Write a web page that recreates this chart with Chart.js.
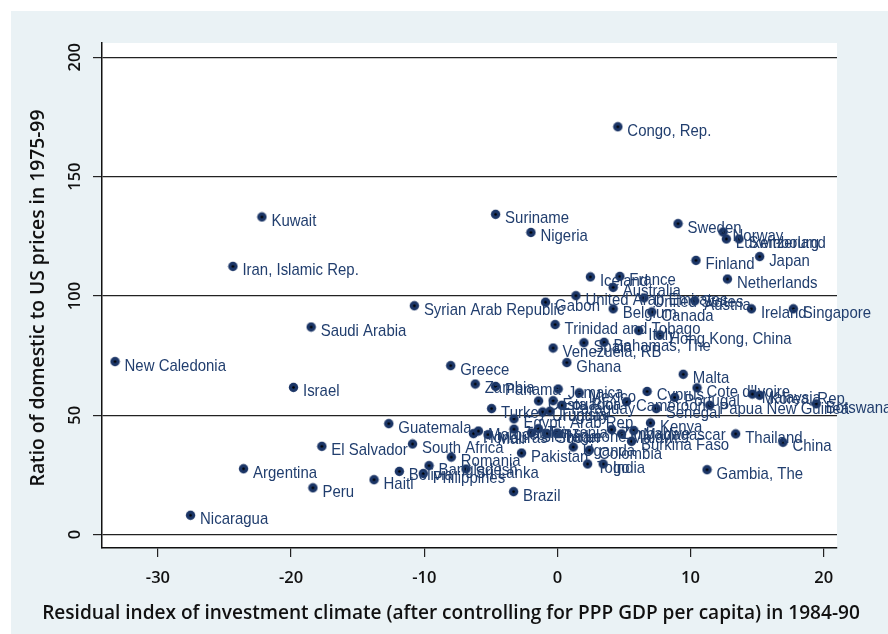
<!DOCTYPE html>
<html lang="en">
<head>
<meta charset="UTF-8">
<title>Investment climate and price levels</title>
<script src="https://cdn.jsdelivr.net/npm/chart.js"></script>
<style>
  html, body { margin: 0; padding: 0; background: #fff; }
  canvas { display: block; }
</style>
</head>
<body>
<canvas id="chart" width="888" height="634"></canvas>
<script>
// residual index of investment climate (x) vs ratio of domestic to US prices (y)
const countries = [
  'Congo, Rep.', 'Kuwait', 'Iran, Islamic Rep.', 'Saudi Arabia', 'New Caledonia', 'Israel',
  'El Salvador', 'Argentina', 'Peru', 'Nicaragua', 'Suriname', 'Nigeria',
  'Syrian Arab Republic', 'Gabon', 'United Arab Emirates', 'Iceland', 'France', 'Australia',
  'United States', 'Austria', 'Belgium', 'Canada', 'Trinidad and Tobago', 'Italy',
  'Hong Kong, China', 'Spain', 'Bahamas, The', 'Venezuela, RB', 'Ghana', 'Sweden',
  'Norway', 'Luxembourg', 'Switzerland', 'Finland', 'Japan', 'Netherlands',
  'Ireland', 'Singapore', 'Greece', 'Zambia', 'Panama', 'Jamaica',
  'Mexico', 'Costa Rica', 'Ecuador', 'Paraguay', 'Turkey', 'Uruguay',
  'Tunisia', 'Egypt, Arab Rep.', 'Cameroon', 'Cyprus', 'Portugal', 'Senegal',
  'Malta', "Cote d'Ivoire", 'Malaysia', 'Korea, Rep.', 'Papua New Guinea', 'Botswana',
  'Kenya', 'Thailand', 'China', 'Gambia, The', 'Burkina Faso', 'Uganda',
  'Colombia', 'Togo', 'India', 'Pakistan', 'Romania', 'Guatemala',
  'South Africa', 'Bangladesh', 'Bolivia', 'Haiti', 'Philippines', 'Sri Lanka',
  'Brazil', 'Honduras', 'Morocco', 'Mali', 'Jordan', 'Sierra Leone',
  'Tanzania', 'Sudan', 'Niger', 'Zimbabwe', 'Malawi', 'Madagascar'
];
const climate = [
  4.54, -22.19, -24.37, -18.49, -33.22, -19.82,
  -17.69, -23.57, -18.36, -27.55, -4.64, -1.99,
  -10.74, -0.89, 1.39, 2.48, 4.69, 4.19,
  6.51, 10.32, 4.19, 7.09, -0.17, 6.11,
  7.69, 1.99, 3.51, -0.32, 0.71, 9.06,
  12.44, 12.69, 13.64, 10.41, 15.19, 12.77,
  14.57, 17.72, -8.01, -6.17, -4.64, 0.06,
  1.64, -1.41, -0.32, 0.32, -4.94, -1.11,
  -0.56, -3.26, 5.19, 6.74, 8.81, 7.43,
  9.45, 10.49, 14.64, 15.19, 11.44, 19.44,
  6.99, 13.39, 16.94, 11.24, 5.57, 1.19,
  2.40, 2.27, 3.44, -2.69, -7.97, -12.66,
  -10.88, -9.64, -11.87, -13.77, -10.07, -6.86,
  -3.29, -6.30, -5.93, -5.21, -3.26, -1.95,
  -1.43, -0.81, -0.02, 4.07, 4.82, 5.74
];
const priceRatio = [
  170.9, 133.1, 112.4, 87.0, 72.5, 61.7,
  37.0, 27.6, 19.6, 8.1, 134.2, 126.6,
  95.9, 97.4, 100.1, 108.0, 108.2, 103.6,
  99.2, 98.0, 94.6, 93.3, 88.0, 85.5,
  83.7, 80.4, 80.6, 78.2, 72.1, 130.3,
  126.8, 123.9, 123.9, 114.9, 116.5, 107.1,
  94.6, 94.6, 70.8, 63.1, 62.1, 61.0,
  59.4, 56.0, 56.1, 54.2, 52.8, 51.4,
  51.7, 48.5, 55.7, 60.0, 57.5, 52.8,
  67.2, 61.5, 58.9, 58.4, 54.2, 54.8,
  46.8, 42.2, 38.7, 27.2, 39.1, 36.7,
  35.4, 29.6, 29.6, 34.2, 32.5, 46.5,
  38.0, 28.9, 26.5, 23.0, 25.6, 27.5,
  18.0, 42.3, 43.4, 41.9, 44.2, 42.6,
  44.4, 42.3, 42.6, 44.0, 42.2, 43.6
];
const xTicks = [-30, -20, -10, 0, 10, 20];
const yTicks = [0, 50, 100, 150, 200];
const xTitle = 'Residual index of investment climate (after controlling for PPP GDP per capita) in 1984-90';
const yTitle = 'Ratio of domestic to US prices in 1975-99';

const bgOuter = '#eaf2f5';
const navy = '#1b3566';
const labelColor = '#213e6e';
const axisFamily = '"Open Sans", "Noto Sans", sans-serif';

// size a bold title so it spans a given width
function fitSize(text, target) {
  const c = document.createElement('canvas').getContext('2d');
  c.font = '600 20px ' + axisFamily;
  return 20 * target / c.measureText(text).width;
}
const xTitleSize = fitSize(xTitle, 818);
const yTitleSize = fitSize(yTitle, 377);

// stata style marker: navy disc with dark centre
const marker = document.createElement('canvas');
marker.width = 11; marker.height = 11;
const mctx = marker.getContext('2d');
mctx.fillStyle = navy;
mctx.beginPath(); mctx.arc(5.5, 5.5, 4.7, 0, Math.PI * 2); mctx.fill();
mctx.fillStyle = '#000';
mctx.beginPath(); mctx.arc(5.5, 5.5, 1.3, 0, Math.PI * 2); mctx.fill();

const framePlugin = {
  id: 'frame',
  beforeDraw(chart) {
    const { ctx, chartArea: a } = chart;
    ctx.save();
    ctx.fillStyle = '#fff';
    ctx.fillRect(0, 0, chart.width, chart.height);
    ctx.fillStyle = bgOuter;
    ctx.fillRect(11, 11, chart.width - 11, chart.height - 11);
    ctx.fillStyle = '#fff';
    ctx.fillRect(a.left, a.top, a.right - a.left, a.bottom - a.top);
    ctx.restore();
  },
  afterDatasetsDraw(chart) {
    const { ctx } = chart;
    const meta = chart.getDatasetMeta(0);
    ctx.save();
    ctx.fillStyle = labelColor;
    ctx.font = '17px "Liberation Sans", Arial, sans-serif';
    ctx.textAlign = 'left';
    ctx.textBaseline = 'alphabetic';
    meta.data.forEach((pt, i) => {
      ctx.save();
      ctx.translate(pt.x + 9.5, pt.y + 9);
      ctx.scale(0.88, 1);
      ctx.fillText(countries[i], 0, 0);
      ctx.restore();
    });
    ctx.restore();
  },
  afterDraw(chart) {
    const { ctx } = chart;
    const ys = chart.scales.y;
    ctx.save();
    ctx.fillStyle = '#111';
    ctx.textAlign = 'center';
    ctx.textBaseline = 'middle';
    // rotated y tick labels
    ctx.font = '600 16.5px ' + axisFamily;
    yTicks.forEach(v => {
      ctx.save();
      ctx.translate(75, ys.getPixelForValue(v));
      ctx.rotate(-Math.PI / 2);
      ctx.fillText(String(v), 0, 0);
      ctx.restore();
    });
    // axis titles
    ctx.font = '600 ' + yTitleSize + 'px ' + axisFamily;
    ctx.save();
    ctx.translate(39, 298);
    ctx.rotate(-Math.PI / 2);
    ctx.fillText(yTitle, 0, 0);
    ctx.restore();
    ctx.font = '600 ' + xTitleSize + 'px ' + axisFamily;
    ctx.fillText(xTitle, 451, 614);
    ctx.restore();
  }
};

new Chart(document.getElementById('chart'), {
  type: 'scatter',
  data: {
    datasets: [{
      data: countries.map((c, i) => ({ x: climate[i], y: priceRatio[i] })),
      pointStyle: marker,
      pointRadius: 5,
      pointHoverRadius: 5
    }]
  },
  options: {
    responsive: false,
    animation: false,
    events: [],
    layout: { padding: { left: 11, top: 43, right: 51, bottom: 11 } },
    plugins: {
      legend: { display: false },
      tooltip: { enabled: false }
    },
    scales: {
      x: {
        type: 'linear',
        min: -34.2,
        max: 21,
        afterBuildTicks: s => { s.ticks = xTicks.map(v => ({ value: v })); },
        afterFit: s => { s.height = 75; },
        grid: { drawOnChartArea: false, drawTicks: true, tickLength: 9, color: '#222', lineWidth: 1.2 },
        border: { color: '#111', width: 1.5 },
        ticks: {
          color: '#111',
          font: { family: axisFamily, size: 16.5, weight: '600' },
          padding: 11,
          autoSkip: false,
          maxRotation: 0,
          callback: v => String(v)
        }
      },
      y: {
        type: 'linear',
        min: -5.6,
        max: 206,
        afterBuildTicks: s => { s.ticks = yTicks.map(v => ({ value: v })); },
        afterFit: s => { s.width = 91; },
        grid: { drawTicks: true, tickLength: 9, color: '#222', lineWidth: 1.2 },
        border: { color: '#111', width: 1.5 },
        ticks: { display: false }
      }
    }
  },
  plugins: [framePlugin]
});
</script>
</body>
</html>
